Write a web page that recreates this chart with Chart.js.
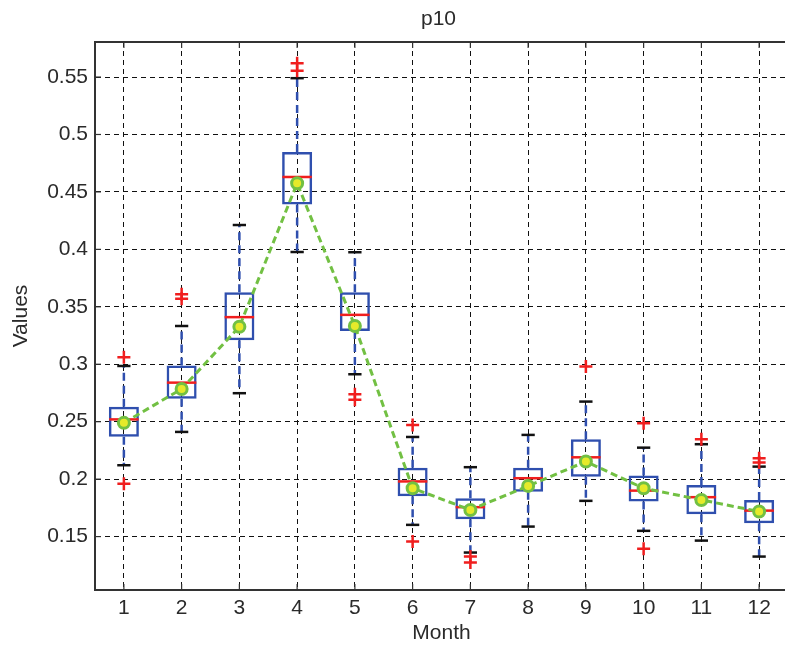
<!DOCTYPE html>
<html>
<head>
<meta charset="utf-8">
<script src="https://cdn.jsdelivr.net/npm/chart.js@4/dist/chart.umd.min.js"></script>
<style>
  html, body { margin: 0; padding: 0; background: #fff; overflow: hidden; }
  #wrap { width: 785px; height: 648px; overflow: hidden; position: relative; }
  #chart { position: absolute; left: 0; top: 0; }
</style>
</head>
<body>
<div id="wrap"><canvas id="chart" width="792" height="648"></canvas></div>
<script>
// monthly p10 distribution
const months = [1, 2, 3, 4, 5, 6, 7, 8, 9, 10, 11, 12];
const q1 = [0.237, 0.270, 0.321, 0.439, 0.329, 0.185, 0.165, 0.189, 0.202, 0.1805, 0.1695, 0.1617];
const q3 = [0.263, 0.299, 0.3627, 0.4847, 0.3627, 0.210, 0.1834, 0.210, 0.2347, 0.2031, 0.195, 0.1819];
const medians = [0.252, 0.284, 0.341, 0.463, 0.343, 0.198, 0.1756, 0.2008, 0.219, 0.190, 0.1843, 0.1726];
const means = [0.249, 0.2785, 0.3327, 0.4575, 0.3333, 0.1921, 0.1732, 0.1941, 0.2153, 0.1921, 0.1819, 0.1718];
const whiskerHigh = [0.2985, 0.3333, 0.4212, 0.549, 0.3975, 0.2367, 0.2104, 0.2385, 0.2675, 0.2274, 0.2304, 0.2109];
const whiskerLow = [0.2121, 0.2411, 0.2748, 0.3977, 0.2913, 0.1602, 0.1361, 0.1587, 0.1811, 0.155, 0.1465, 0.1326];
const outliers = [
  [0.306, 0.196], [0.361, 0.357], [], [0.562, 0.5555], [0.2739, 0.269], [0.2472, 0.1457],
  [0.1326, 0.1274], [], [0.298], [0.2487, 0.1393], [0.2347], [0.2182, 0.2144]
];
const yTicks = [0.15, 0.2, 0.25, 0.3, 0.35, 0.4, 0.45, 0.5, 0.55];

const BLUE = '#2f4fae';
const RED = '#f01e1e';
const GREEN = '#72c043';
const YELLOW = '#e6ea2a';
const TEXT = '#2a2a2a';
const FONT = '"Liberation Sans", Arial, sans-serif';
const FSIZE = 21;

function seg(ctx, x1, y1, x2, y2) {
  ctx.beginPath();
  ctx.moveTo(x1, y1);
  ctx.lineTo(x2, y2);
  ctx.stroke();
}

// whiskers, caps and medians drawn right after the boxes
const boxParts = {
  id: 'boxParts',
  afterDatasetDraw(chart, args) {
    if (args.index !== 2) return;
    const { ctx, scales: { x, y } } = chart;
    const step = x.getPixelForValue(2) - x.getPixelForValue(1);
    const half = step * 0.255;
    const capHalf = step * 0.115;
    ctx.save();
    ctx.lineCap = 'butt';
    months.forEach((m, i) => {
      const px = x.getPixelForValue(m);
      ctx.strokeStyle = BLUE;
      ctx.lineWidth = 2.5;
      ctx.setLineDash([8, 5]);
      seg(ctx, px, y.getPixelForValue(q3[i]), px, y.getPixelForValue(whiskerHigh[i]));
      seg(ctx, px, y.getPixelForValue(q1[i]), px, y.getPixelForValue(whiskerLow[i]));
      ctx.setLineDash([]);
      ctx.strokeStyle = '#111';
      ctx.lineWidth = 2.5;
      const yh = y.getPixelForValue(whiskerHigh[i]);
      const yl = y.getPixelForValue(whiskerLow[i]);
      seg(ctx, px - capHalf, yh, px + capHalf, yh);
      seg(ctx, px - capHalf, yl, px + capHalf, yl);
      ctx.strokeStyle = RED;
      const ym = y.getPixelForValue(medians[i]);
      seg(ctx, px - half, ym, px + half, ym);
    });
    ctx.restore();
  }
};

// top frame line, inward tick marks and the title
const frame = {
  id: 'frame',
  beforeDatasetsDraw(chart) {
    const { ctx, chartArea: a, scales: { x, y } } = chart;
    ctx.save();
    ctx.strokeStyle = '#333';
    ctx.lineWidth = 2;
    seg(ctx, a.left - 1, a.top, a.right, a.top);
    ctx.lineWidth = 1.2;
    months.forEach(m => {
      const px = x.getPixelForValue(m);
      seg(ctx, px, a.top, px, a.top + 6);
      seg(ctx, px, a.bottom, px, a.bottom - 6);
    });
    yTicks.forEach(v => {
      const py = y.getPixelForValue(v);
      seg(ctx, a.left, py, a.left + 6, py);
    });
    ctx.restore();
  },
  afterDraw(chart) {
    const { ctx, chartArea: a } = chart;
    ctx.save();
    ctx.fillStyle = TEXT;
    ctx.font = FSIZE + 'px ' + FONT;
    ctx.textAlign = 'center';
    ctx.textBaseline = 'middle';
    ctx.fillText('p10', (a.left + a.right) / 2 - 3, 19);
    ctx.restore();
  }
};

const outlierPoints = [];
outliers.forEach((list, i) => list.forEach(v => outlierPoints.push({ x: months[i], y: v })));

new Chart(document.getElementById('chart'), {
  data: {
    datasets: [
      {
        type: 'scatter',
        label: 'Outliers',
        data: outlierPoints,
        pointStyle: 'cross',
        pointRadius: 6.5,
        borderColor: RED,
        backgroundColor: RED,
        pointBorderWidth: 2.5
      },
      {
        type: 'line',
        label: 'Mean',
        data: months.map((m, i) => ({ x: m, y: means[i] })),
        borderColor: GREEN,
        borderWidth: 3,
        borderDash: [7, 4],
        pointRadius: 5.5,
        pointBorderWidth: 3,
        pointBorderColor: GREEN,
        pointBackgroundColor: YELLOW,
        tension: 0
      },
      {
        type: 'bar',
        label: 'IQR',
        data: months.map((m, i) => ({ x: m, y: [q1[i], q3[i]] })),
        backgroundColor: 'rgba(0,0,0,0)',
        borderColor: BLUE,
        borderWidth: 2.5,
        borderSkipped: false,
        categoryPercentage: 1,
        barPercentage: 0.52
      }
    ]
  },
  options: {
    responsive: false,
    animation: false,
    // the canvas is a little wider than its box, so the right frame edge is cut off
    layout: { autoPadding: false, padding: { top: 42, right: 4, left: 0, bottom: 0 } },
    plugins: {
      legend: { display: false },
      tooltip: { enabled: false }
    },
    scales: {
      x: {
        type: 'linear',
        min: 0.5,
        max: 12.5,
        offset: false,
        afterBuildTicks: s => { s.ticks = months.map(v => ({ value: v })); },
        afterFit: s => { s.height = 58; s.paddingLeft = 0; s.paddingRight = 0; },
        ticks: {
          callback: v => String(v),
          color: TEXT,
          padding: 6,
          maxRotation: 0,
          font: { family: FONT, size: FSIZE }
        },
        grid: { color: '#111', lineWidth: 1, drawTicks: false, offset: false },
        border: { display: true, color: '#333', width: 2, dash: [5, 4] },
        title: {
          display: true,
          text: 'Month',
          color: TEXT,
          padding: { top: 0, bottom: 2 },
          font: { family: FONT, size: FSIZE }
        }
      },
      y: {
        type: 'linear',
        min: 0.1035,
        max: 0.5805,
        afterBuildTicks: s => { s.ticks = yTicks.map(v => ({ value: v })); },
        afterFit: s => { s.width = 95; s.paddingTop = 0; s.paddingBottom = 0; },
        ticks: {
          callback: v => String(v),
          color: TEXT,
          padding: 7,
          font: { family: FONT, size: FSIZE }
        },
        grid: { color: '#111', lineWidth: 1, drawTicks: false },
        border: { display: true, color: '#333', width: 2, dash: [5, 4] },
        title: {
          display: true,
          text: 'Values',
          color: TEXT,
          padding: { top: 9, bottom: 0 },
          font: { family: FONT, size: FSIZE }
        }
      }
    }
  },
  plugins: [boxParts, frame]
});
</script>
</body>
</html>
